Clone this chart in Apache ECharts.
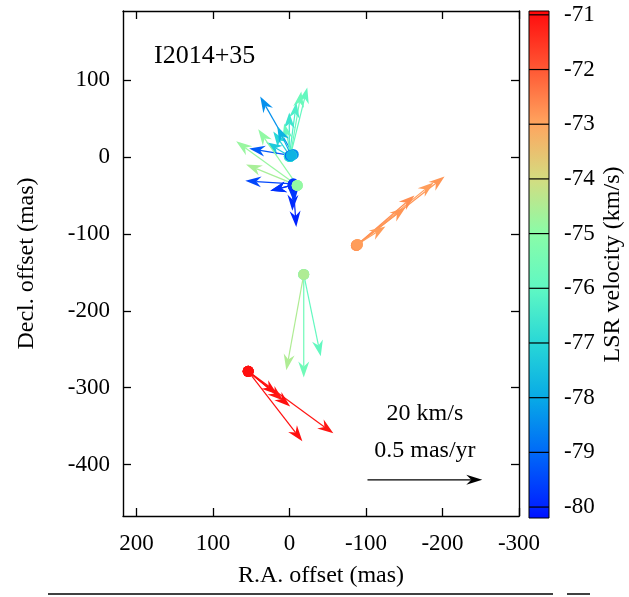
<!DOCTYPE html>
<html>
<head>
<meta charset="utf-8">
<script src="https://cdn.jsdelivr.net/npm/echarts@6/dist/echarts.min.js"></script>
<style>
html, body { margin: 0; padding: 0; background: #fff; }
#chart { width: 629px; height: 597px; }
</style>
</head>
<body>
<div id="chart"></div>
<script>
// Maser spot positions (mas), proper motions (mas/yr) and LSR velocities (km/s)
const spotRA = [
  -87.5, -88.8, -87.5, -87.5, -88.8,
  -18.7, -18.7, -18.7,
  53.9, 53.9, 53.9, 53.9, 53.9,
  -5.0, -1.1, -1.1, 0.2, 0.2, -2.4, -1.1, -1.1, -1.1, -2.4,
  -5.0, -5.0, -5.0, -5.0, -5.0, -5.0, -10.2, -10.2, -10.2
];
const spotDec = [
  -115.0, -113.7, -115.0, -115.0, -113.7,
  -152.7, -152.7, -152.7,
  -278.8, -278.8, -278.8, -278.8, -278.8,
  3.4, 0.8, 0.8, 0.8, 0.8, 2.1, 0.8, 0.8, 2.1, 2.1,
  -34.9, -37.5, -36.2, -37.5, -36.2, -36.2, -36.9, -36.9, -36.9
];
const pmRA = [
  -0.384, -0.332, -0.253, -0.214, -0.122,
  -0.074, 0.000, 0.076,
  -0.236, -0.371, -0.183, -0.153, -0.127,
  0.144, -0.074, -0.048, -0.031, 0.000, 0.031, 0.074, 0.105, 0.179, 0.061,
  0.209, -0.013, 0.100, 0.004, -0.004, 0.100, 0.266, 0.223, 0.170
];
const pmDec = [
  0.299, 0.269, 0.217, 0.165, 0.078,
  -0.355, -0.447, -0.416,
  -0.303, -0.269, -0.152, -0.126, -0.100,
  0.251, 0.299, 0.282, 0.234, 0.191, 0.139, 0.108, 0.061, 0.030, 0.126,
  0.013, -0.178, -0.026, -0.108, -0.078, -0.026, 0.191, 0.091, 0.243
];
const vlsr = [
  -72.8, -72.9, -72.7, -72.8, -72.9,
  -75.9, -75.6, -74.5,
  -71.0, -71.1, -71.0, -71.1, -71.0,
  -78.4, -75.9, -75.7, -76.3, -76.6, -75.8, -77.0, -77.3, -79.2, -77.8,
  -79.5, -80.0, -79.8, -79.9, -79.7, -79.8, -74.8, -74.6, -74.9
];

// Axis ticks
const raTicks = [200, 100, 0, -100, -200, -300];
const decTicks = [100, 0, -100, -200, -300, -400];
const cbTicks = [-80, -79, -78, -77, -76, -75, -74, -73, -72, -71];

// Reference motion
const refSpeed = 0.5;      // mas/yr
const refSpeedKms = 20;    // km/s
const refOrigin = [-102, -420];

// Colour scale for LSR velocity
const paletteVel = [-80.2, -80, -79, -78, -77, -76, -75, -74, -73, -72, -71, -70.93];
const paletteCol = ['#0010ff', '#0023ff', '#0069f8', '#08aae6', '#28d7d7', '#5ff8c3',
                    '#8afca8', '#d4dc80', '#ffa55f', '#ff5834', '#ff0f0f', '#ff0000'];

const masPerMasYr = 300;   // arrow length: mas drawn per mas/yr
const raRange = [-300, 217.5];
const decRange = [-467, 190];
const cbRange = [-80.2, -70.93];
const FONT = 'Liberation Serif';

function hexToRgb(h) {
  return [parseInt(h.slice(1, 3), 16), parseInt(h.slice(3, 5), 16), parseInt(h.slice(5, 7), 16)];
}
function colorOf(v) {
  if (v <= paletteVel[0]) return paletteCol[0];
  for (let i = 1; i < paletteVel.length; i++) {
    if (v <= paletteVel[i]) {
      const t = (v - paletteVel[i - 1]) / (paletteVel[i] - paletteVel[i - 1]);
      const a = hexToRgb(paletteCol[i - 1]), b = hexToRgb(paletteCol[i]);
      const c = a.map((x, k) => Math.round(x + (b[k] - x) * t));
      return 'rgb(' + c.join(',') + ')';
    }
  }
  return paletteCol[paletteCol.length - 1];
}

function arrowElements(p0, p1, color, headLen, headHalf, notch, lw) {
  const dx = p1[0] - p0[0], dy = p1[1] - p0[1];
  const L = Math.hypot(dx, dy) || 1;
  const ux = dx / L, uy = dy / L, nx = -uy, ny = ux;
  const bx = p1[0] - ux * headLen, by = p1[1] - uy * headLen;
  const mx = p1[0] - ux * (headLen - notch), my = p1[1] - uy * (headLen - notch);
  return [
    { type: 'line', shape: { x1: p0[0], y1: p0[1], x2: mx, y2: my },
      style: { stroke: color, lineWidth: lw } },
    { type: 'polygon',
      shape: { points: [[p1[0], p1[1]], [bx + nx * headHalf, by + ny * headHalf], [mx, my],
                        [bx - nx * headHalf, by - ny * headHalf]] },
      style: { fill: color } }
  ];
}

const spots = spotRA.map((ra, i) => [ra, spotDec[i], pmRA[i], pmDec[i], vlsr[i]]);

const chart = echarts.init(document.getElementById('chart'), null, { renderer: 'canvas' });

const tickStyle = { fontFamily: FONT, fontSize: 23, color: '#000' };
const nameStyle = { fontFamily: FONT, fontSize: 24, color: '#000' };
const frameLine = { show: true, onZero: false, lineStyle: { color: '#000', width: 1.4 } };

const option = {
  backgroundColor: '#fff',
  animation: false,
  title: {
    text: 'I2014+35', left: 149, top: 38,
    textStyle: { fontFamily: FONT, fontSize: 26, fontWeight: 'normal', color: '#000' }
  },
  grid: [
    { left: 123, top: 11, width: 396, height: 505 },
    { left: 529, top: 11, width: 20, height: 507 }
  ],
  xAxis: [
    {
      type: 'value', gridIndex: 0, min: raRange[0], max: raRange[1], inverse: true,
      position: 'bottom',
      name: 'R.A. offset (mas)', nameLocation: 'middle', nameGap: 48,
      nameTextStyle: nameStyle,
      axisLine: frameLine,
      axisTick: { show: true, inside: true, length: 8, customValues: raTicks,
                  lineStyle: { color: '#000', width: 1.3 } },
      axisLabel: Object.assign({ margin: 16, customValues: raTicks }, tickStyle),
      splitLine: { show: false }
    },
    {
      type: 'value', gridIndex: 0, min: raRange[0], max: raRange[1], inverse: true,
      position: 'top',
      axisLine: frameLine,
      axisTick: { show: true, inside: true, length: 8, customValues: raTicks,
                  lineStyle: { color: '#000', width: 1.3 } },
      axisLabel: { show: false },
      splitLine: { show: false }
    },
    {
      type: 'value', gridIndex: 1, min: 0, max: 1, show: false
    }
  ],
  yAxis: [
    {
      type: 'value', gridIndex: 0, min: decRange[0], max: decRange[1], position: 'left',
      name: 'Decl. offset (mas)', nameLocation: 'middle', nameGap: 84, nameRotate: 90,
      nameTextStyle: nameStyle,
      axisLine: frameLine,
      axisTick: { show: true, inside: true, length: 8, customValues: decTicks,
                  lineStyle: { color: '#000', width: 1.3 } },
      axisLabel: Object.assign({ margin: 13, customValues: decTicks }, tickStyle),
      splitLine: { show: false }
    },
    {
      type: 'value', gridIndex: 0, min: decRange[0], max: decRange[1], position: 'right',
      axisLine: frameLine,
      axisTick: { show: true, inside: true, length: 8, customValues: decTicks,
                  lineStyle: { color: '#000', width: 1.3 } },
      axisLabel: { show: false },
      splitLine: { show: false }
    },
    {
      type: 'value', gridIndex: 1, min: cbRange[0], max: cbRange[1], position: 'right',
      name: 'LSR velocity (km/s)', nameLocation: 'middle', nameGap: 52, nameRotate: 90,
      nameTextStyle: nameStyle,
      axisLine: { show: false },
      axisTick: { show: false },
      axisLabel: Object.assign({ margin: 15, customValues: cbTicks }, tickStyle),
      splitLine: { show: false }
    }
  ],
  series: [
    {
      // proper-motion arrows
      type: 'custom', xAxisIndex: 0, yAxisIndex: 0, z: 2, clip: false,
      data: spots,
      renderItem: function (params, api) {
        const ra = api.value(0), dec = api.value(1);
        const p0 = api.coord([ra, dec]);
        const p1 = api.coord([ra + api.value(2) * masPerMasYr, dec + api.value(3) * masPerMasYr]);
        return { type: 'group', children: arrowElements(p0, p1, colorOf(api.value(4)), 16, 5.5, 5, 1.2) };
      }
    },
    {
      // spot positions
      type: 'scatter', xAxisIndex: 0, yAxisIndex: 0, z: 3,
      symbol: 'circle', symbolSize: 11,
      data: spots.map(s => [s[0], s[1], s[4]]),
      itemStyle: { color: p => colorOf(p.value[2]), opacity: 1 }
    },
    {
      // reference arrow and its labels
      type: 'custom', xAxisIndex: 0, yAxisIndex: 0, z: 4, clip: false,
      data: [[refOrigin[0], refOrigin[1], refSpeed, refSpeedKms]],
      renderItem: function (params, api) {
        const x0 = api.value(0), y0 = api.value(1);
        const p0 = api.coord([x0, y0]);
        const p1 = api.coord([x0 - api.value(2) * masPerMasYr, y0]);
        const cx = (p0[0] + p1[0]) / 2;
        const els = arrowElements(p0, p1, '#000', 16, 5, 5, 1.2);
        els.push({ type: 'text', style: { text: api.value(3) + ' km/s', x: cx, y: p0[1] - 66,
          align: 'center', verticalAlign: 'middle', font: '24px "Liberation Serif"', fill: '#000' } });
        els.push({ type: 'text', style: { text: api.value(2) + ' mas/yr', x: cx, y: p0[1] - 29,
          align: 'center', verticalAlign: 'middle', font: '24px "Liberation Serif"', fill: '#000' } });
        return { type: 'group', children: els };
      }
    },
    {
      // colour box
      type: 'custom', xAxisIndex: 2, yAxisIndex: 2, z: 2, clip: false,
      data: [[0, 1, cbRange[0], cbRange[1]]],
      renderItem: function (params, api) {
        const pTop = api.coord([0, api.value(3)]);
        const pBot = api.coord([1, api.value(2)]);
        const span = api.value(3) - api.value(2);
        const stops = paletteVel.map((v, i) => ({ offset: (v - api.value(2)) / span, color: paletteCol[i] }));
        const els = [{
          type: 'rect',
          shape: { x: pTop[0], y: pTop[1], width: pBot[0] - pTop[0], height: pBot[1] - pTop[1] },
          style: { fill: new echarts.graphic.LinearGradient(0, 1, 0, 0, stops), stroke: '#000', lineWidth: 1 }
        }];
        cbTicks.forEach(t => {
          const a = api.coord([0, t]), b = api.coord([1, t]);
          els.push({ type: 'line', shape: { x1: a[0], y1: a[1], x2: b[0], y2: b[1] },
                     style: { stroke: '#000', lineWidth: 1.2 } });
        });
        return { type: 'group', children: els };
      }
    }
  ],
  graphic: [
    { type: 'line', shape: { x1: 48, y1: 594, x2: 553, y2: 594 }, style: { stroke: '#000', lineWidth: 1.5 } },
    { type: 'line', shape: { x1: 567, y1: 594, x2: 590, y2: 594 }, style: { stroke: '#000', lineWidth: 1.5 } }
  ]
};

chart.setOption(option);
</script>
</body>
</html>
